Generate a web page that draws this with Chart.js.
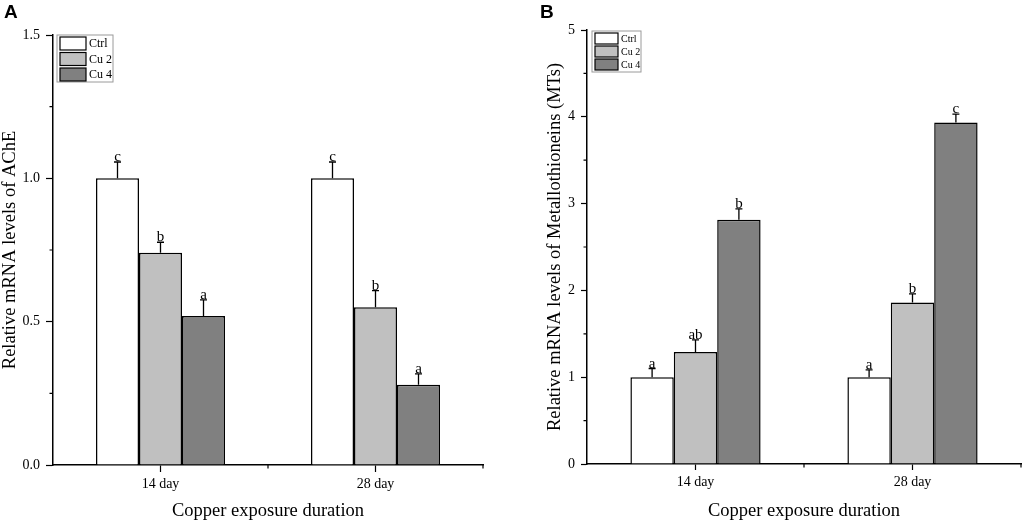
<!DOCTYPE html>
<html>
<head>
<meta charset="utf-8">
<script src="https://cdn.jsdelivr.net/npm/chart.js@4.4.0/dist/chart.umd.min.js"></script>
<style>
  body { margin: 0; background: #fff; }
  #wrap { position: relative; width: 1024px; height: 523px; }
  .panel { position: absolute; top: 0; width: 512px; height: 523px; }
  .tag { position: absolute; font: bold 19px "Liberation Sans", Arial, sans-serif; line-height: 19px; color: #000; }
</style>
</head>
<body>
<div id="wrap">
  <div class="panel" style="left:0"><canvas id="ache"></canvas></div>
  <div class="panel" style="left:512px"><canvas id="mts"></canvas></div>
  <div class="tag" style="left:4px;top:2px">A</div>
  <div class="tag" style="left:540px;top:2px">B</div>
</div>
<script>
const days = ['14 day', '28 day'];
const groups = ['Ctrl', 'Cu 2', 'Cu 4'];
const fills = ['#ffffff', '#c0c0c0', '#808080'];

// panel A - AChE
const acheCtrl = [1.00, 1.00];
const acheCu2 = [0.74, 0.55];
const acheCu4 = [0.52, 0.28];
const acheCtrlErr = [0.057, 0.057];
const acheCu2Err = [0.037, 0.058];
const acheCu4Err = [0.056, 0.038];
const acheLetters = [['c', 'c'], ['b', 'b'], ['a', 'a']];
const acheTicks = [0, 0.5, 1.0, 1.5];

// panel B - metallothioneins
const mtCtrl = [1.00, 1.00];
const mtCu2 = [1.29, 1.86];
const mtCu4 = [2.815, 3.935];
const mtCtrlErr = [0.10, 0.085];
const mtCu2Err = [0.14, 0.10];
const mtCu4Err = [0.125, 0.095];
const mtLetters = [['a', 'a'], ['ab', 'b'], ['b', 'c']];
const mtTicks = [0, 1, 2, 3, 4, 5];

const serif = '"Liberation Serif", "Times New Roman", serif';

// error bars + significance letters
const errorBars = {
  id: 'errorBars',
  afterDatasetsDraw(chart) {
    const ctx = chart.ctx;
    const y = chart.scales.y;
    ctx.save();
    ctx.strokeStyle = '#000';
    ctx.fillStyle = '#000';
    ctx.lineWidth = 1.3;
    ctx.font = '15px ' + serif;
    ctx.textAlign = 'center';
    ctx.textBaseline = 'alphabetic';
    chart.data.datasets.forEach((ds, i) => {
      chart.getDatasetMeta(i).data.forEach((bar, j) => {
        const top = y.getPixelForValue(ds.data[j] + ds.err[j]);
        ctx.beginPath();
        ctx.moveTo(bar.x, bar.y);
        ctx.lineTo(bar.x, top);
        ctx.moveTo(bar.x - 3.5, top);
        ctx.lineTo(bar.x + 3.5, top);
        ctx.stroke();
        ctx.fillText(ds.letters[j], bar.x, top - 1);
      });
    });
    ctx.restore();
  }
};

// small ticks between the labelled ones
const minorTicks = {
  id: 'minorTicks',
  afterDraw(chart, args, opts) {
    const { ctx, chartArea: a, scales: { x, y } } = chart;
    const len = opts.len || 3.5;
    ctx.save();
    ctx.strokeStyle = '#000';
    ctx.lineWidth = 1.2;
    ctx.beginPath();
    const t = y.ticks;
    const half = (t[1].value - t[0].value) / 2;
    for (let i = 0; i < t.length - 1; i++) {
      const py = y.getPixelForValue(t[i].value + half);
      ctx.moveTo(a.left - len, py);
      ctx.lineTo(a.left, py);
    }
    const hw = (x.getPixelForValue(1) - x.getPixelForValue(0)) / 2;
    for (let i = 0; i < chart.data.labels.length; i++) {
      const px = x.getPixelForValue(i) + hw;
      ctx.moveTo(px, a.bottom);
      ctx.lineTo(px, a.bottom + len);
    }
    ctx.stroke();
    ctx.restore();
  }
};

// boxed legend inside the plot
const boxLegend = {
  id: 'boxLegend',
  afterDraw(chart, args, o) {
    const { ctx, chartArea: a } = chart;
    const bx = a.left + o.dx, by = a.top + o.dy;
    ctx.save();
    ctx.fillStyle = '#fff';
    ctx.fillRect(bx, by, o.w, o.h);
    ctx.strokeStyle = '#9a9a9a';
    ctx.lineWidth = 1;
    ctx.strokeRect(bx, by, o.w, o.h);
    ctx.font = o.size + 'px ' + serif;
    ctx.textBaseline = 'middle';
    ctx.textAlign = 'left';
    chart.data.datasets.forEach((ds, i) => {
      const ry = by + 2 + i * o.row;
      ctx.fillStyle = ds.backgroundColor;
      ctx.fillRect(bx + 3, ry, o.sw, o.sh);
      ctx.strokeStyle = '#000';
      ctx.lineWidth = 1.2;
      ctx.strokeRect(bx + 3, ry, o.sw, o.sh);
      ctx.fillStyle = '#000';
      ctx.fillText(ds.label, bx + o.sw + 6, ry + o.sh / 2 + 0.5);
    });
    ctx.restore();
  }
};

function buildChart(id, series, errs, letters, ticks, yTitle, look) {
  return new Chart(document.getElementById(id), {
    type: 'bar',
    data: {
      labels: days,
      datasets: groups.map((g, i) => ({
        label: g,
        data: series[i],
        err: errs[i],
        letters: letters[i],
        backgroundColor: fills[i],
        borderColor: '#000',
        borderWidth: 1.5,
        categoryPercentage: 0.6,
        barPercentage: 1.0
      }))
    },
    options: {
      responsive: true,
      maintainAspectRatio: false,
      animation: false,
      events: [],
      layout: { padding: { top: look.top, right: look.right, left: 0, bottom: 0 } },
      plugins: {
        legend: { display: false },
        tooltip: { enabled: false },
        minorTicks: { len: 3.5 },
        boxLegend: look.legend
      },
      scales: {
        x: {
          grid: { offset: false, drawOnChartArea: false, tickLength: look.tick, color: '#000', tickWidth: 1.2 },
          border: { color: '#000', width: 1.5 },
          ticks: { color: '#000', font: { family: serif, size: 14 }, padding: 4 },
          title: { display: true, text: 'Copper exposure duration', color: '#000',
                   font: { family: serif, size: 18.5, lineHeight: 1 }, padding: { top: 0, bottom: 3 } },
          afterFit: s => { s.height = look.xh; }
        },
        y: {
          min: ticks[0],
          max: ticks[ticks.length - 1],
          afterBuildTicks: s => { s.ticks = ticks.map(v => ({ value: v })); },
          grid: { drawOnChartArea: false, tickLength: look.tick, color: '#000', tickWidth: 1.2 },
          border: { color: '#000', width: 1.5 },
          ticks: { color: '#000', font: { family: serif, size: 14 }, padding: 6,
                   callback: v => look.fixed ? v.toFixed(1) : String(v) },
          title: { display: true, text: yTitle, color: '#000',
                   font: { family: serif, size: 18.5, lineHeight: 1 }, padding: { top: look.ytp, bottom: 0 } },
          afterFit: s => { s.width = look.yw; }
        }
      }
    },
    plugins: [errorBars, minorTicks, boxLegend]
  });
}

buildChart('ache',
  [acheCtrl, acheCu2, acheCu4],
  [acheCtrlErr, acheCu2Err, acheCu4Err],
  acheLetters, acheTicks,
  'Relative mRNA levels of AChE',
  { top: 35, right: 29, yw: 53, xh: 58, tick: 7, fixed: true, ytp: 1,
    legend: { dx: 4, dy: 0, w: 56, h: 47, row: 15.5, sw: 26, sh: 13, size: 12 } });

buildChart('mts',
  [mtCtrl, mtCu2, mtCu4],
  [mtCtrlErr, mtCu2Err, mtCu4Err],
  mtLetters, mtTicks,
  'Relative mRNA levels of Metallothioneins (MTs)',
  { top: 30, right: 3, yw: 75, xh: 59, tick: 6, fixed: false, ytp: 34,
    legend: { dx: 5, dy: 1, w: 49, h: 41, row: 13, sw: 23, sh: 11, size: 10 } });
</script>
</body>
</html>
